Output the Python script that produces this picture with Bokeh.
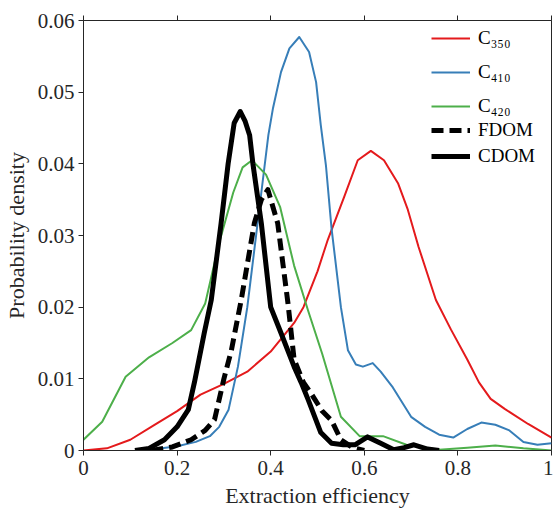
from bokeh.plotting import figure
from bokeh.models import Range1d, FixedTicker, LinearAxis, Legend, LegendItem
from bokeh.embed import file_html
from bokeh.resources import INLINE

# ---- data ----
x_c350 = [0, 0.05, 0.1, 0.15, 0.2, 0.25, 0.3, 0.35, 0.4, 0.45, 0.47, 0.5, 0.522, 0.557, 0.586,
          0.614, 0.642, 0.672, 0.693, 0.716, 0.753, 0.785, 0.82, 0.845, 0.87, 0.9, 0.95, 1.0]
y_c350 = [0, 0.0003, 0.0015, 0.0035, 0.0055, 0.0078, 0.0093, 0.011, 0.0138, 0.0178, 0.020, 0.025,
          0.0294, 0.0354, 0.0405, 0.0418, 0.0405, 0.0373, 0.0336, 0.0284, 0.021, 0.0169, 0.0127,
          0.0095, 0.0072, 0.0058, 0.0037, 0.0018]

x_c410 = [0.13, 0.2, 0.24, 0.27, 0.29, 0.31, 0.33, 0.35, 0.38, 0.395, 0.405, 0.422, 0.44, 0.461,
          0.482, 0.497, 0.507, 0.518, 0.53, 0.55, 0.565, 0.582, 0.597, 0.618, 0.635, 0.661, 0.70,
          0.73, 0.76, 0.79, 0.82, 0.85, 0.88, 0.91, 0.94, 0.97, 1.0]
y_c410 = [0, 0.0006, 0.0012, 0.002, 0.0033, 0.0057, 0.0117, 0.020, 0.036, 0.044, 0.0478, 0.0528,
          0.0561, 0.0577, 0.0556, 0.0514, 0.0454, 0.0398, 0.031, 0.020, 0.014, 0.012, 0.0117,
          0.0122, 0.011, 0.0088, 0.0047, 0.0033, 0.0022, 0.0018, 0.003, 0.0039, 0.0036, 0.0028,
          0.0012, 0.0008, 0.001]

x_c420 = [0, 0.04, 0.09, 0.14, 0.19, 0.23, 0.26, 0.29, 0.32, 0.34, 0.36, 0.39, 0.42, 0.45, 0.48,
          0.51, 0.55, 0.59, 0.64, 0.69, 0.76, 0.82, 0.88, 0.94, 1.0]
y_c420 = [0.0015, 0.004, 0.0103, 0.013, 0.015, 0.0168, 0.0205, 0.029, 0.036, 0.0395, 0.0405,
          0.0385, 0.034, 0.0258, 0.0195, 0.0135, 0.0047, 0.002, 0.002, 0.0008, 0.0001, 0.0004,
          0.0007, 0.0003, 0.0]

x_fdom = [0.145, 0.19, 0.23, 0.26, 0.28, 0.30, 0.316, 0.337, 0.365, 0.38, 0.394, 0.415, 0.437,
          0.45, 0.47, 0.486, 0.51, 0.53, 0.55, 0.575, 0.6]
y_fdom = [0, 0.0005, 0.0015, 0.0028, 0.0043, 0.010, 0.014, 0.021, 0.0317, 0.035, 0.0364, 0.0317,
          0.0205, 0.0127, 0.0095, 0.008, 0.0055, 0.0042, 0.0015, 0.0004, 0.0]

x_cdom = [0.11, 0.14, 0.173, 0.2, 0.224, 0.237, 0.258, 0.273, 0.294, 0.309, 0.322, 0.335, 0.345,
          0.355, 0.362, 0.38, 0.40, 0.422, 0.45, 0.465, 0.48, 0.507, 0.53, 0.555, 0.58, 0.607,
          0.635, 0.663, 0.685, 0.706, 0.735, 0.76]
y_cdom = [0, 0.0003, 0.0015, 0.0033, 0.0057, 0.0095, 0.0164, 0.021, 0.0317, 0.040, 0.0457, 0.0473,
          0.046, 0.044, 0.040, 0.0317, 0.020, 0.0164, 0.0117, 0.0095, 0.0071, 0.0025, 0.001,
          0.0008, 0.0008, 0.0019, 0.001, 0.0001, 0.0004, 0.0008, 0.0002, 0.0]

x_ticks = [0, 0.2, 0.4, 0.6, 0.8, 1.0]
x_tick_labels = ["0", "0.2", "0.4", "0.6", "0.8", "1"]
y_ticks = [0, 0.01, 0.02, 0.03, 0.04, 0.05, 0.06]
y_tick_labels = ["0", "0.01", "0.02", "0.03", "0.04", "0.05", "0.06"]

FONT = "Liberation Serif"
AX = "#262626"

p = figure(width=553, height=510, output_backend="svg", toolbar_location=None,
           x_range=Range1d(0, 1), y_range=Range1d(0, 0.06),
           min_border_left=82, min_border_right=2, min_border_top=20, min_border_bottom=30)
p.grid.visible = False
p.outline_line_color = AX
p.background_fill_color = "white"

r_red = p.line(x_c350, y_c350, line_color="#E41A1C", line_width=2, line_join="round")
r_blue = p.line(x_c410, y_c410, line_color="#377EB8", line_width=2, line_join="round")
r_green = p.line(x_c420, y_c420, line_color="#4DAF4A", line_width=2, line_join="round")
r_fdom = p.line(x_fdom, y_fdom, line_color="black", line_width=5, line_dash="12 6",
                line_join="round")
r_cdom = p.line(x_cdom, y_cdom, line_color="black", line_width=5, line_join="round")

def style(ax, size="21px"):
    ax.axis_line_color = AX
    ax.major_tick_line_color = AX
    ax.minor_tick_line_color = None
    ax.major_tick_out = 5
    ax.major_tick_in = 0
    ax.major_label_text_font = FONT
    ax.major_label_text_color = AX
    ax.major_label_text_font_size = size
    ax.axis_label_text_font = FONT
    ax.axis_label_text_font_size = "22px"
    ax.axis_label_text_font_style = "normal"
    ax.axis_label_text_color = AX

xa = p.xaxis[0]
xa.ticker = FixedTicker(ticks=x_ticks)
xa.major_label_overrides = {t: l for t, l in zip(x_ticks, x_tick_labels)}
xa.axis_label = "Extraction efficiency"
style(xa)
xa.major_label_standoff = 5
xa.axis_label_standoff = 5

ya = p.yaxis[0]
ya.ticker = FixedTicker(ticks=y_ticks)
ya.major_label_overrides = {t: l for t, l in zip(y_ticks, y_tick_labels)}
ya.axis_label = "Probability density"
style(ya)
ya.major_label_standoff = 4
ya.axis_label_standoff = 6

top = LinearAxis(ticker=FixedTicker(ticks=x_ticks))
style(top, "1px")
top.major_label_overrides = {t: "" for t in x_ticks}
top.major_label_standoff = 0
p.add_layout(top, "above")

def make_legend(items, loc, spacing):
    lg = Legend(items=items, location=loc)
    lg.border_line_color = None
    lg.background_fill_alpha = 0
    lg.label_text_font = FONT
    lg.label_text_font_size = "19px"
    lg.label_text_color = "black"
    lg.glyph_width = 39
    lg.glyph_height = 20
    lg.label_height = 20
    lg.label_standoff = 8
    lg.spacing = spacing
    lg.padding = 4
    lg.margin = 0
    return lg

leg1 = make_legend([
    LegendItem(label="C\u2083\u2085\u2080", renderers=[r_red]),
    LegendItem(label="C\u2084\u2081\u2080", renderers=[r_blue]),
    LegendItem(label="C\u2084\u2082\u2080", renderers=[r_green]),
], (348, 333), 12)
leg2 = make_legend([
    LegendItem(label="FDOM", renderers=[r_fdom]),
    LegendItem(label="CDOM", renderers=[r_cdom]),
], (348, 283), 4)
p.add_layout(leg1)
p.add_layout(leg2)

open("out.html", "w").write(file_html(p, INLINE))
